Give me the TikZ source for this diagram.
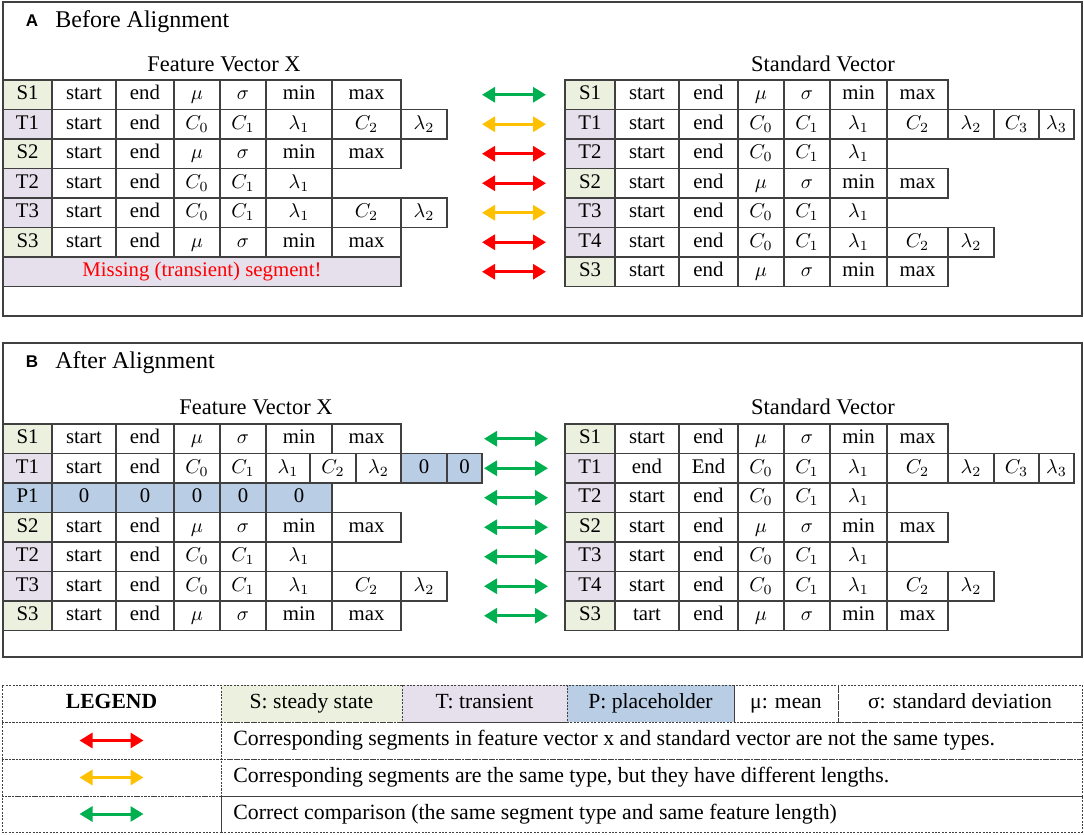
\documentclass[tikz,border=0pt]{standalone}
\usepackage{fontspec}
\setmainfont{Liberation Serif}
\newfontfamily\labelsans{Liberation Sans}
\usetikzlibrary{arrows.meta}
\definecolor{sgreen}{HTML}{EBF1DE}
\definecolor{tpurple}{HTML}{E5E0EC}
\definecolor{pblue}{HTML}{B9CDE5}
\definecolor{agreen}{HTML}{00B050}
\definecolor{aorange}{HTML}{FFC000}
\definecolor{ared}{HTML}{FF0000}
\definecolor{edge}{HTML}{404040}
\tikzset{
 cell/.style={draw=edge, line width=0.6pt, inner sep=0pt, outer sep=0pt, minimum height=14.75pt, anchor=north west, font=\fontsize{10.4}{12}\selectfont, text height=7pt, text depth=2pt},
 cmp/.style={line width=1.5pt, {Triangle[length=6.5pt,width=7.5pt]}-{Triangle[length=6.5pt,width=7.5pt]}},
 panel/.style={draw=edge, line width=0.8pt},
 title/.style={font=\fontsize{12}{14}\selectfont, anchor=west, inner sep=0pt},
 vtitle/.style={font=\fontsize{11.2}{13}\selectfont, inner sep=0pt},
 plabel/.style={font=\labelsans\bfseries\fontsize{8.5}{10}\selectfont, inner sep=0pt},
 legcell/.style={draw=edge, line width=0.5pt, dash pattern=on 1pt off 0.7pt, inner sep=0pt, outer sep=0pt, anchor=north west, font=\fontsize{10.8}{12}\selectfont, text height=7.4pt, text depth=2.2pt},
 legtext/.style={anchor=west, inner sep=0pt, font=\fontsize{10.9}{12}\selectfont, text height=7.4pt, text depth=2.2pt},
}
\newcommand\cellrow[3]{%
  \foreach \xa/\xb/\txt/\fc [count=\k] in {#3} {%
    \node[cell, fill=\fc, minimum width={(\xb-\xa)*0.5pt}] (#1-\k) at (\xa,#2) {\txt};
  }%
}
\begin{document}
\begin{tikzpicture}[x=0.5pt,y=-0.5pt]
\fill[white] (0,0) rectangle (1084,835);
\useasboundingbox (0,0) rectangle (1084,835);

% ---------- Panel A ----------
\draw[panel] (3,2) rectangle (1082,316);
\node[plabel] (labA) at (32,21) {A};
\node[title] (titA) at (55,22) {Before Alignment};
\node[vtitle] (fvA) at (224,64) {Feature Vector X};
\node[vtitle] (svA) at (823,64) {Standard Vector};

\cellrow{aL1}{80}{3/52/S1/sgreen, 52/116/start/white, 116/174/end/white, 174/220/$\mu$/white, 220/266/$\sigma$/white, 266/332/min/white, 332/401/max/white}
\cellrow{aL2}{109.5}{3/52/T1/tpurple, 52/116/start/white, 116/174/end/white, 174/220/$C_0$/white, 220/266/$C_1$/white, 266/332/$\lambda_1$/white, 332/401/$C_2$/white, 401/447/$\lambda_2$/white}
\cellrow{aL3}{139}{3/52/S2/sgreen, 52/116/start/white, 116/174/end/white, 174/220/$\mu$/white, 220/266/$\sigma$/white, 266/332/min/white, 332/401/max/white}
\cellrow{aL4}{168.5}{3/52/T2/tpurple, 52/116/start/white, 116/174/end/white, 174/220/$C_0$/white, 220/266/$C_1$/white, 266/332/$\lambda_1$/white}
\cellrow{aL5}{198}{3/52/T3/tpurple, 52/116/start/white, 116/174/end/white, 174/220/$C_0$/white, 220/266/$C_1$/white, 266/332/$\lambda_1$/white, 332/401/$C_2$/white, 401/447/$\lambda_2$/white}
\cellrow{aL6}{227.5}{3/52/S3/sgreen, 52/116/start/white, 116/174/end/white, 174/220/$\mu$/white, 220/266/$\sigma$/white, 266/332/min/white, 332/401/max/white}
\cellrow{aL7}{257}{3/401/\textcolor{red}{Missing (transient) segment!}/tpurple}

\cellrow{aR1}{80}{565/615/S1/sgreen, 615/679/start/white, 679/738/end/white, 738/784/$\mu$/white, 784/830/$\sigma$/white, 830/887/min/white, 887/948/max/white}
\cellrow{aR2}{109.5}{565/615/T1/tpurple, 615/679/start/white, 679/738/end/white, 738/784/$C_0$/white, 784/830/$C_1$/white, 830/887/$\lambda_1$/white, 887/948/$C_2$/white, 948/994/$\lambda_2$/white, 994/1039/$C_3$/white, 1039/1074/$\lambda_3$/white}
\cellrow{aR3}{139}{565/615/T2/tpurple, 615/679/start/white, 679/738/end/white, 738/784/$C_0$/white, 784/830/$C_1$/white, 830/887/$\lambda_1$/white}
\cellrow{aR4}{168.5}{565/615/S2/sgreen, 615/679/start/white, 679/738/end/white, 738/784/$\mu$/white, 784/830/$\sigma$/white, 830/887/min/white, 887/948/max/white}
\cellrow{aR5}{198}{565/615/T3/tpurple, 615/679/start/white, 679/738/end/white, 738/784/$C_0$/white, 784/830/$C_1$/white, 830/887/$\lambda_1$/white}
\cellrow{aR6}{227.5}{565/615/T4/tpurple, 615/679/start/white, 679/738/end/white, 738/784/$C_0$/white, 784/830/$C_1$/white, 830/887/$\lambda_1$/white, 887/948/$C_2$/white, 948/994/$\lambda_2$/white}
\cellrow{aR7}{257}{565/615/S3/sgreen, 615/679/start/white, 679/738/end/white, 738/784/$\mu$/white, 784/830/$\sigma$/white, 830/887/min/white, 887/948/max/white}

\foreach \i/\c in {1/agreen,2/aorange,3/ared,4/ared,5/aorange,6/ared,7/ared} {
  \pgfmathsetmacro\yy{80+29.5*(\i-1)+14.75}
  \coordinate (aa\i) at (482,\yy);
  \coordinate (ab\i) at (546,\yy);
  \draw[cmp, color=\c] (aa\i) -- (ab\i);
}

% ---------- Panel B ----------
\draw[panel] (3,343) rectangle (1082,657);
\node[plabel] (labB) at (32,362) {B};
\node[title] (titB) at (55,363) {After Alignment};
\node[vtitle] (fvB) at (256,407) {Feature Vector X};
\node[vtitle] (svB) at (823,407) {Standard Vector};

\cellrow{bL1}{424}{3/52/S1/sgreen, 52/116/start/white, 116/174/end/white, 174/220/$\mu$/white, 220/266/$\sigma$/white, 266/332/min/white, 332/401/max/white}
\cellrow{bL2}{453.5}{3/52/T1/tpurple, 52/116/start/white, 116/174/end/white, 174/220/$C_0$/white, 220/266/$C_1$/white, 266/310/$\lambda_1$/white, 310/356/$C_2$/white, 356/401/$\lambda_2$/white, 401/447/0/pblue, 447/482/0/pblue}
\cellrow{bL3}{483}{3/52/P1/pblue, 52/116/0/pblue, 116/174/0/pblue, 174/220/0/pblue, 220/266/0/pblue, 266/332/0/pblue}
\cellrow{bL4}{512.5}{3/52/S2/sgreen, 52/116/start/white, 116/174/end/white, 174/220/$\mu$/white, 220/266/$\sigma$/white, 266/332/min/white, 332/401/max/white}
\cellrow{bL5}{542}{3/52/T2/tpurple, 52/116/start/white, 116/174/end/white, 174/220/$C_0$/white, 220/266/$C_1$/white, 266/332/$\lambda_1$/white}
\cellrow{bL6}{571.5}{3/52/T3/tpurple, 52/116/start/white, 116/174/end/white, 174/220/$C_0$/white, 220/266/$C_1$/white, 266/332/$\lambda_1$/white, 332/401/$C_2$/white, 401/447/$\lambda_2$/white}
\cellrow{bL7}{601}{3/52/S3/sgreen, 52/116/start/white, 116/174/end/white, 174/220/$\mu$/white, 220/266/$\sigma$/white, 266/332/min/white, 332/401/max/white}

\cellrow{bR1}{424}{565/615/S1/sgreen, 615/679/start/white, 679/738/end/white, 738/784/$\mu$/white, 784/830/$\sigma$/white, 830/887/min/white, 887/948/max/white}
\cellrow{bR2}{453.5}{565/615/T1/tpurple, 615/679/end/white, 679/738/End/white, 738/784/$C_0$/white, 784/830/$C_1$/white, 830/887/$\lambda_1$/white, 887/948/$C_2$/white, 948/994/$\lambda_2$/white, 994/1039/$C_3$/white, 1039/1074/$\lambda_3$/white}
\cellrow{bR3}{483}{565/615/T2/tpurple, 615/679/start/white, 679/738/end/white, 738/784/$C_0$/white, 784/830/$C_1$/white, 830/887/$\lambda_1$/white}
\cellrow{bR4}{512.5}{565/615/S2/sgreen, 615/679/start/white, 679/738/end/white, 738/784/$\mu$/white, 784/830/$\sigma$/white, 830/887/min/white, 887/948/max/white}
\cellrow{bR5}{542}{565/615/T3/tpurple, 615/679/start/white, 679/738/end/white, 738/784/$C_0$/white, 784/830/$C_1$/white, 830/887/$\lambda_1$/white}
\cellrow{bR6}{571.5}{565/615/T4/tpurple, 615/679/start/white, 679/738/end/white, 738/784/$C_0$/white, 784/830/$C_1$/white, 830/887/$\lambda_1$/white, 887/948/$C_2$/white, 948/994/$\lambda_2$/white}
\cellrow{bR7}{601}{565/615/S3/sgreen, 615/679/tart/white, 679/738/end/white, 738/784/$\mu$/white, 784/830/$\sigma$/white, 830/887/min/white, 887/948/max/white}

\foreach \i in {1,...,7} {
  \pgfmathsetmacro\yy{424+29.5*(\i-1)+14.75}
  \coordinate (ba\i) at (484,\yy);
  \coordinate (bb\i) at (548,\yy);
  \draw[cmp, color=agreen] (ba\i) -- (bb\i);
}

% ---------- Legend ----------
\node[legcell, minimum width={219*0.5pt}, minimum height=18.5pt] (lg0) at (2,685) {\textbf{LEGEND}};
\node[legcell, fill=sgreen, minimum width={181*0.5pt}, minimum height=18.5pt] (lg1) at (221,685) {S: steady state};
\node[legcell, fill=tpurple, minimum width={165*0.5pt}, minimum height=18.5pt] (lg2) at (402,685) {T: transient};
\node[legcell, fill=pblue, minimum width={167*0.5pt}, minimum height=18.5pt] (lg3) at (567,685) {P: placeholder};
\node[legcell, minimum width={104*0.5pt}, minimum height=18.5pt] (lg4) at (734,685) {μ: mean};
\node[legcell, minimum width={244*0.5pt}, minimum height=18.5pt] (lg5) at (838,685) {σ: standard deviation};

\node[legcell, minimum width={219*0.5pt}, minimum height=18.5pt] (la1) at (2,722) {};
\node[legcell, minimum width={861*0.5pt}, minimum height=18.5pt] (ld1) at (221,722) {};
\node[legcell, minimum width={219*0.5pt}, minimum height=18.5pt] (la2) at (2,759) {};
\node[legcell, minimum width={861*0.5pt}, minimum height=18.5pt] (ld2) at (221,759) {};
\node[legcell, minimum width={219*0.5pt}, minimum height=18pt] (la3) at (2,796) {};
\node[legcell, minimum width={861*0.5pt}, minimum height=18pt] (ld3) at (221,796) {};

\coordinate (lal1) at ([xshift=-16pt]la1.center);
\coordinate (lar1) at ([xshift=16pt]la1.center);
\coordinate (lal2) at ([xshift=-16pt]la2.center);
\coordinate (lar2) at ([xshift=16pt]la2.center);
\coordinate (lal3) at ([xshift=-16pt]la3.center);
\coordinate (lar3) at ([xshift=16pt]la3.center);
\draw[cmp, color=ared] (lal1) -- (lar1);
\draw[cmp, color=aorange] (lal2) -- (lar2);
\draw[cmp, color=agreen] (lal3) -- (lar3);

\node[legtext] (lt1) at ([xshift=6pt]ld1.west) {Corresponding segments in feature vector x and standard vector are not the same types.};
\node[legtext] (lt2) at ([xshift=6pt]ld2.west) {Corresponding segments are the same type, but they have different lengths.};
\node[legtext] (lt3) at ([xshift=6pt]ld3.west) {Correct comparison (the same segment type and same feature length)};
\end{tikzpicture}
\end{document}
